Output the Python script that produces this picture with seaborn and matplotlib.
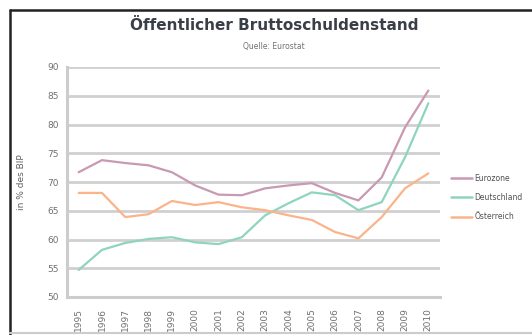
import matplotlib
matplotlib.use("Agg")
import matplotlib.pyplot as plt
from matplotlib.lines import Line2D
import seaborn as sns
import pandas as pd

years = list(range(1995, 2011))
eurozone = [71.7, 73.8, 73.3, 72.9, 71.7, 69.4, 67.8, 67.7, 68.9, 69.4, 69.8, 68.1, 66.8, 70.8, 79.5, 85.9]
deutschland = [54.7, 58.2, 59.4, 60.1, 60.4, 59.5, 59.2, 60.4, 64.2, 66.3, 68.2, 67.7, 65.1, 66.5, 74.3, 83.7]
oesterreich = [68.1, 68.1, 63.9, 64.4, 66.7, 66.0, 66.5, 65.6, 65.1, 64.2, 63.4, 61.3, 60.2, 63.9, 68.9, 71.5]
series_names = ["Eurozone", "Deutschland", "Österreich"]
colors = ["#c999b2", "#8fd4bf", "#fbb48a"]
y_ticks = [50, 55, 60, 65, 70, 75, 80, 85, 90]

df = pd.DataFrame({
    "Jahr": years * 3,
    "Wert": eurozone + deutschland + oesterreich,
    "Reihe": [series_names[0]] * 16 + [series_names[1]] * 16 + [series_names[2]] * 16,
})

sns.set_theme(style="white")
plt.rcParams["font.family"] = ["DejaVu Sans"]

W, H = 532, 335
fig = plt.figure(figsize=(W / 100, H / 100), dpi=100)
ax = fig.add_axes([67 / W, 1 - 297 / H, (440 - 67) / W, (297 - 67) / H])

sns.lineplot(data=df, x="Jahr", y="Wert", hue="Reihe", palette=colors,
             hue_order=series_names, linewidth=1.6, ax=ax, legend=False, sort=False)

ax.set_xlim(1994.5, 2010.5)
ax.set_ylim(50, 90)
ax.set_yticks(y_ticks)
ax.set_yticklabels([str(v) for v in y_ticks], fontsize=6.5, color="#707070")
ax.set_xticks(years)
ax.set_xticklabels([str(y) for y in years], rotation=90, fontsize=6.5, color="#707070")
ax.tick_params(axis="both", length=0, pad=6)
ax.tick_params(axis="x", pad=8)
ax.grid(axis="y", color="#d0d0d0", linewidth=2.0)
ax.set_axisbelow(True)
for s in ["top", "right"]:
    ax.spines[s].set_visible(False)
ax.spines["left"].set_color("#cccccc")
ax.spines["left"].set_linewidth(2.2)
ax.spines["bottom"].set_color("#cccccc")
ax.spines["bottom"].set_linewidth(2.2)
ax.set_xlabel("")
ax.set_ylabel("in % des BIP", fontsize=6.5, color="#606060", labelpad=15)

handles = [Line2D([0], [0], color=c, linewidth=1.8) for c in colors]
fig.legend(handles, series_names, loc="upper left",
           bbox_to_anchor=(446 / W, 1 - 169 / H), frameon=False,
           fontsize=5.5, handlelength=2.8, handletextpad=0.3, labelspacing=1.35,
           labelcolor="#505050", borderaxespad=0.2)

fig.text(274 / W, 1 - 25 / H, "Öffentlicher Bruttoschuldenstand", ha="center", va="center",
         fontsize=11, fontweight="bold", color="#3a3f47")
fig.text(274 / W, 1 - 47 / H, "Quelle: Eurostat", ha="center", va="center",
         fontsize=5.5, color="#707070")

# chart frame
fig.add_artist(Line2D([9.5 / W, 9.5 / W], [0, 1 - 10 / H], color="#222222", linewidth=1.8))
fig.add_artist(Line2D([9.5 / W, 1], [1 - 10 / H, 1 - 10 / H], color="#222222", linewidth=1.8))
fig.add_artist(Line2D([9.5 / W, 1], [1 - 333 / H, 1 - 333 / H], color="#cccccc", linewidth=1.5))

fig.savefig("out.png", dpi=100)
